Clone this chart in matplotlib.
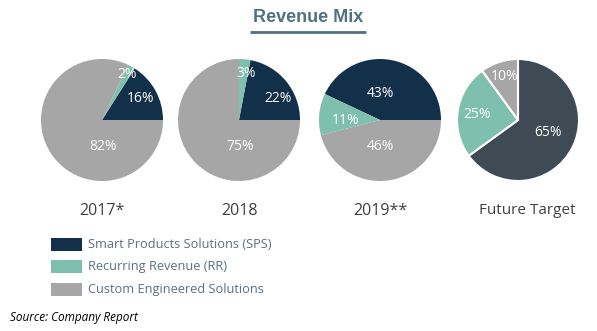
import numpy as np
import matplotlib
matplotlib.use("Agg")
import matplotlib.pyplot as plt
from matplotlib.patches import Rectangle

# ---------------- data ----------------
segments = ["Smart Products Solutions (SPS)", "Recurring Revenue (RR)", "Custom Engineered Solutions"]
periods = ["2017*", "2018", "2019**", "Future Target"]
share_2017 = [16, 2, 82]
share_2018 = [22, 3, 75]
share_2019 = [43, 11, 46]
share_future = [65, 25, 10]

# ---------------- style ----------------
W, H = 597, 331
C_SPS = "#13304a"
C_RR = "#7fbfad"
C_CES = "#a6a6a6"
C_SPS_FUT = "#3e4b55"
C_TITLE = "#52717e"
C_LEG = "#5b7083"
C_LAB = "#404040"
FONT = ["Open Sans", "DejaVu Sans"]

R = 61
# (center x, center y in px from top, startangle, counterclock, edge)
layout = [
    (102, 120, 0, True, False),
    (239, 120, 0, True, False),
    (380, 120, 0, True, False),
    (518, 120, 90, False, True),
]
# label placement per wedge: (angle deg, radius fraction)
label_pos = [
    [(29, 0.72), (61, 0.86), (-88, 0.44)],
    [(29, 0.74), (81, 0.77), (-88, 0.44)],
    [(90, 0.43), (180, 0.56), (-90, 0.44)],
    [(-22, 0.53), (172, 0.68), (107, 0.74)],
]

fig = plt.figure(figsize=(W / 100, H / 100), dpi=100)
ax = fig.add_axes([0, 0, 1, 1])

all_shares = [share_2017, share_2018, share_2019, share_future]
for i, (vals, (cx, cy, sa, ccw, edge)) in enumerate(zip(all_shares, layout)):
    cols = [C_SPS if i < 3 else C_SPS_FUT, C_RR, C_CES]
    wp = {"linewidth": 1.5, "edgecolor": "white"} if edge else {"linewidth": 0}
    ax.pie(vals, colors=cols, startangle=sa, counterclock=ccw,
           center=(cx, H - cy), radius=R, wedgeprops=wp, frame=True)
    for v, (ang, d) in zip(vals, label_pos[i]):
        a = np.deg2rad(ang)
        ax.text(cx + d * R * np.cos(a), H - cy + d * R * np.sin(a), f"{v}%",
                ha="center", va="center", color="white", fontsize=10, family=FONT)
    ax.text(cx + (9 if i == 3 else 0), H - 211, periods[i], ha="center", va="center",
            color=C_LAB, fontsize=11.5 if i < 3 else 11, family=FONT)

ax.set_xlim(0, W)
ax.set_ylim(0, H)
ax.set_aspect("equal")
ax.axis("off")

# title with underline
ax.text(308, H - 17, "Revenue Mix", ha="center", va="center", fontsize=13,
        fontweight="bold", color=C_TITLE, family=["Liberation Sans", "DejaVu Sans"])
ax.plot([250, 366], [H - 32, H - 32], color=C_TITLE, lw=2, solid_capstyle="butt")

# legend
for k, (name, col) in enumerate(zip(segments, [C_SPS, C_RR, C_CES])):
    y = 244 + k * 22.5
    ax.add_patch(Rectangle((51, H - y - 6.5), 31, 13, facecolor=col, edgecolor="none"))
    ax.text(88, H - y, name, ha="left", va="center", fontsize=9.2, color=C_LEG, family=FONT)

ax.text(10, H - 318, "Source: Company Report", ha="left", va="center", fontsize=8.5,
        style="italic", color="black", family=FONT)

fig.savefig("out.png", dpi=100)
